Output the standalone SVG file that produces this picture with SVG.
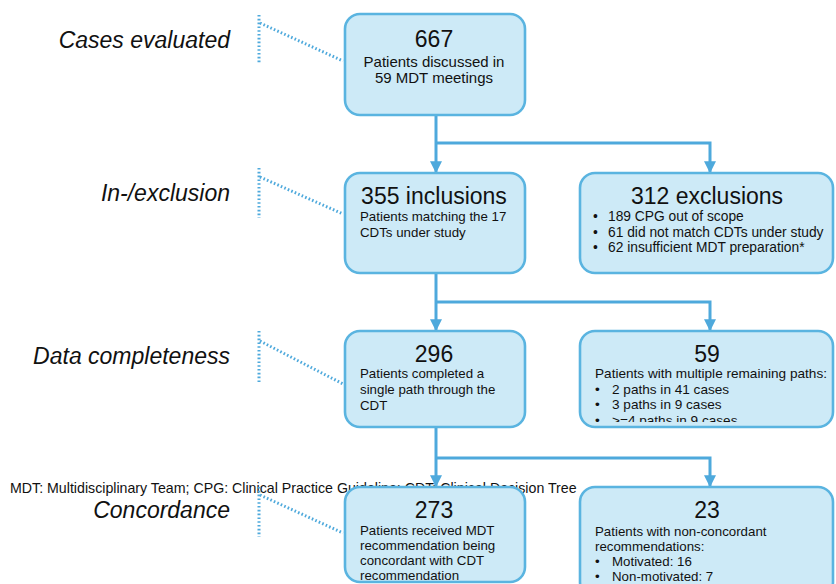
<svg xmlns="http://www.w3.org/2000/svg" width="836" height="584" viewBox="0 0 836 584">
  <defs>
    <style>
      .box { fill: #cdeaf7; stroke: #5ab4e0; stroke-width: 2.6; }
      .conn { fill: none; stroke: #4ea9dc; stroke-width: 3; }
      .guide { fill: none; stroke: #4ea9dc; stroke-width: 3; stroke-dasharray: 1.6 2.2; }
      .stage { font-family: "Liberation Sans", Arial, sans-serif; font-style: italic; font-size: 23px; fill: #111; text-anchor: end; }
      .num { font-family: "Liberation Sans", Arial, sans-serif; font-size: 23px; fill: #111; text-anchor: middle; }
      .txt { font-family: "Liberation Sans", Arial, sans-serif; font-size: 13.3px; fill: #111; }
      .lg { font-size: 15px; }
      .md { font-size: 13.6px; }
      .note { font-family: "Liberation Sans", Arial, sans-serif; font-size: 14.2px; fill: #111; }
    </style>
    <marker id="arrow" viewBox="0 0 10 10" refX="9" refY="5" markerWidth="4" markerHeight="4" orient="auto" markerUnits="strokeWidth">
      <path d="M0,0 L10,5 L0,10 Z" fill="#4ea9dc"/>
    </marker>
    <clipPath id="clip59">
      <rect x="580" y="331" width="256" height="91"/>
    </clipPath>
  </defs>

  <!-- abbreviations note (sits behind the lower boxes) -->
  <text class="note" x="10" y="493">MDT: Multidisciplinary Team; CPG: Clinical Practice Guideline; CDT: Clinical Decision Tree</text>

  <!-- stage labels -->
  <g id="stages">
    <text class="stage" x="230" y="48">Cases evaluated</text>
    <text class="stage" x="230" y="201">In-/exclusion</text>
    <text class="stage" x="230" y="364">Data completeness</text>
    <text class="stage" x="230" y="518">Concordance</text>
  </g>

  <!-- dotted brackets pointing from each stage to its main box -->
  <g id="guides">
    <path class="guide" d="M259,15 V64 M260,23 L343,61"/>
    <path class="guide" d="M259,168 V218 M260,177 L343,214"/>
    <path class="guide" d="M259,331 V383 M260,341 L343,384"/>
    <path class="guide" d="M259,487 V537 M260,495 L343,533"/>
  </g>

  <!-- connectors -->
  <g id="connectors">
    <path class="conn" d="M436,115 V172" marker-end="url(#arrow)"/>
    <path class="conn" d="M436,143 H710 V172" marker-end="url(#arrow)"/>
    <path class="conn" d="M436,273 V330" marker-end="url(#arrow)"/>
    <path class="conn" d="M436,302 H710 V330" marker-end="url(#arrow)"/>
    <path class="conn" d="M436,427 V486" marker-end="url(#arrow)"/>
    <path class="conn" d="M436,458 H710 V486" marker-end="url(#arrow)"/>
  </g>

  <g id="node-667">
    <rect class="box" x="345" y="14" width="180" height="101" rx="15"/>
    <text class="num" x="434" y="47">667</text>
    <text class="txt lg" x="434" y="67" text-anchor="middle">Patients discussed in</text>
    <text class="txt lg" x="434" y="83" text-anchor="middle">59 MDT meetings</text>
  </g>

  <g id="node-355">
    <rect class="box" x="345" y="173" width="180" height="100" rx="15"/>
    <text class="num" x="434" y="204">355 inclusions</text>
    <text class="txt" x="360" y="221">Patients matching the 17</text>
    <text class="txt" x="360" y="237">CDTs under study</text>
  </g>

  <g id="node-312">
    <rect class="box" x="580" y="173" width="253" height="100" rx="15"/>
    <text class="num" x="707" y="204">312 exclusions</text>
    <g class="txt" style="font-size:13.8px">
      <text x="593" y="221">•</text>
      <text x="608" y="221">189 CPG out of scope</text>
      <text x="593" y="237">•</text>
      <text x="608" y="237">61 did not match CDTs under study</text>
      <text x="593" y="252">•</text>
      <text x="608" y="252">62 insufficient MDT preparation*</text>
    </g>
  </g>

  <g id="node-296">
    <rect class="box" x="345" y="331" width="180" height="96" rx="15"/>
    <text class="num" x="434" y="362">296</text>
    <text class="txt" x="360" y="378">Patients completed a</text>
    <text class="txt" x="360" y="394">single path through the</text>
    <text class="txt" x="360" y="410">CDT</text>
  </g>

  <g id="node-59">
    <rect class="box" x="580" y="331" width="253" height="96" rx="15"/>
    <text class="num" x="707" y="362">59</text>
    <text class="txt md" x="595" y="378">Patients with multiple remaining paths:</text>
    <g clip-path="url(#clip59)">
      <text class="txt md" x="595" y="394">•</text>
      <text class="txt md" x="612" y="394">2 paths in 41 cases</text>
      <text class="txt md" x="595" y="409">•</text>
      <text class="txt md" x="612" y="409">3 paths in 9 cases</text>
      <text class="txt md" x="595" y="425">•</text>
      <text class="txt md" x="612" y="425">&gt;=4 paths in 9 cases</text>
    </g>
  </g>

  <g id="node-273">
    <rect class="box" x="345" y="487" width="180" height="95" rx="15"/>
    <text class="num" x="434" y="518">273</text>
    <text class="txt" x="360" y="535">Patients received MDT</text>
    <text class="txt" x="360" y="550">recommendation being</text>
    <text class="txt" x="360" y="565">concordant with CDT</text>
    <text class="txt" x="360" y="580">recommendation</text>
  </g>

  <g id="node-23">
    <rect class="box" x="580" y="487" width="253" height="110" rx="15"/>
    <text class="num" x="707" y="518">23</text>
    <text class="txt" x="595" y="536">Patients with non-concordant</text>
    <text class="txt" x="595" y="551">recommendations:</text>
    <text class="txt" x="595" y="566">•</text>
    <text class="txt" x="612" y="566">Motivated: 16</text>
    <text class="txt" x="595" y="581">•</text>
    <text class="txt" x="612" y="581">Non-motivated: 7</text>
  </g>
</svg>
